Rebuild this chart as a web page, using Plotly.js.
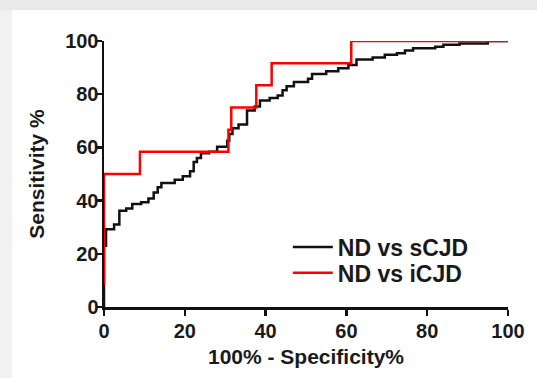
<!DOCTYPE html>
<html>
<head>
<meta charset="utf-8">
<script src="https://cdn.plot.ly/plotly-3.0.1.min.js"></script>
<style>
  html, body { margin: 0; padding: 0; }
  body { width: 537px; height: 378px; background: #f1f1f1; position: relative; overflow: hidden; }
  #topband { position: absolute; left: 0; top: 0; width: 537px; height: 10px; background: #e9e9e9; }
  #chart { position: absolute; left: 12px; top: 10px; width: 525px; height: 368px; background: #ffffff; }
</style>
</head>
<body>
<div id="topband"></div>
<div id="chart"></div>
<script>
// ROC curve: ND vs sCJD (step points: x of each rise, sensitivity after the rise)
const sCJD_fpr = [0, 0, 0.5, 2.5, 3.8, 5.5, 7, 9.2, 11, 12.3, 13.3, 14.2, 17.5, 19.5, 21.3, 22.2, 23, 24, 26, 28,
  30.5, 31, 31.8, 33.3, 35.4, 37.3, 38.6, 41, 43, 44.2, 45.2, 47, 50.5, 51.5, 55, 58, 60.5, 62.5, 66.5, 69.5,
  72.5, 74.5, 76.5, 82, 84, 88, 95, 100];
const sCJD_sens = [0, 23, 29.2, 31, 36.2, 37, 38.7, 39.4, 40.8, 43, 45, 46.6, 47.8, 49.2, 51, 54.5, 56, 57.8, 58.4, 60.2,
  62.5, 65, 67.2, 68.6, 73.9, 75.4, 77.6, 78.6, 79.5, 81.5, 83, 84.6, 85.8, 87.6, 88.6, 89.8, 91, 93, 93.8, 94.8,
  95.4, 96.4, 97.3, 97.8, 98.6, 99.1, 100, 100];

// ROC curve: ND vs iCJD
const iCJD_fpr = [0, 0, 8.9, 30.8, 31.5, 37.7, 41.5, 61.2, 100];
const iCJD_sens = [8.33, 50, 58.33, 66.67, 75, 83.33, 91.67, 100, 100];

const seriesNames = ['ND vs sCJD', 'ND vs iCJD'];
const tickVals = [0, 20, 40, 60, 80, 100];

const fontFamily = '"Liberation Sans", Arial, Helvetica, sans-serif';
const legendFont = { family: fontFamily, size: 23, color: '#1a1a1a', weight: 'bold' };

const traces = [
  {
    x: sCJD_fpr, y: sCJD_sens, name: seriesNames[0], type: 'scatter', mode: 'lines',
    line: { color: '#111111', width: 2.5, shape: 'hv' }, cliponaxis: false, legend: 'legend'
  },
  {
    x: iCJD_fpr, y: iCJD_sens, name: seriesNames[1], type: 'scatter', mode: 'lines',
    line: { color: '#ff0000', width: 2.5, shape: 'hv' }, cliponaxis: false, legend: 'legend2'
  }
];

const axisCommon = {
  range: [0, 100], tickvals: tickVals, ticktext: tickVals.map(String),
  showgrid: false, zeroline: false, showline: true, linecolor: '#111111', linewidth: 2.5,
  ticks: 'outside', ticklen: 6, tickwidth: 2.5, tickcolor: '#111111',
  tickfont: { family: fontFamily, size: 20, color: '#1a1a1a', weight: 'bold' },
  fixedrange: true
};

// one legend box per series so the two rows sit close together
const legendCommon = {
  xanchor: 'left', yanchor: 'top', bgcolor: 'rgba(0,0,0,0)', borderwidth: 0,
  itemwidth: 40, font: legendFont
};

const layout = {
  width: 525, height: 368,
  margin: { l: 92, r: 29, t: 31, b: 71 },
  paper_bgcolor: '#ffffff', plot_bgcolor: '#ffffff',
  showlegend: true,
  legend: Object.assign({}, legendCommon, { x: 0.455, y: 0.306 }),
  legend2: Object.assign({}, legendCommon, { x: 0.455, y: 0.209 }),
  xaxis: Object.assign({}, axisCommon, {
    ticklabelstandoff: -2,
    title: { text: '100% - Specificity%', standoff: 9,
      font: { family: fontFamily, size: 21, color: '#1a1a1a', weight: 'bold' } }
  }),
  yaxis: Object.assign({}, axisCommon, {
    layer: 'below traces', ticklabelstandoff: -7,
    title: { text: 'Sensitivity %', standoff: 15,
      font: { family: fontFamily, size: 21, color: '#1a1a1a', weight: 'bold' } }
  })
};

Plotly.newPlot('chart', traces, layout, { displayModeBar: false, staticPlot: true });
</script>
</body>
</html>
